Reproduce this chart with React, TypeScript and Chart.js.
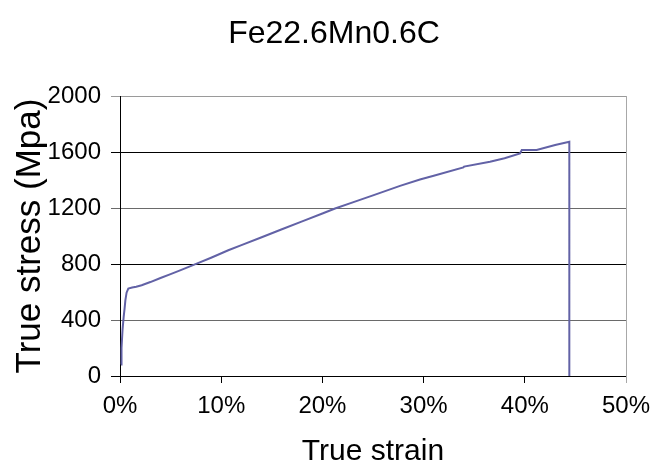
import React, { useEffect, useRef } from "react";
import { Chart, registerables } from "chart.js";

Chart.register(...registerables);

const TITLE = "Fe22.6Mn0.6C";
const X_TITLE = "True strain";
const Y_TITLE = "True stress (Mpa)";

const strain = [
  0.001, 0.0015, 0.0025, 0.0036, 0.0045, 0.0053, 0.0065, 0.0082, 0.012, 0.016,
  0.0214, 0.03, 0.04, 0.05, 0.06, 0.0758, 0.09, 0.107, 0.12, 0.14, 0.16, 0.18,
  0.2, 0.2125, 0.23, 0.25, 0.2767, 0.2964, 0.31, 0.3393, 0.3400, 0.3656, 0.38,
  0.3953, 0.397, 0.4117, 0.43, 0.444, 0.444,
];
const stress = [
  82, 200, 330, 421, 480, 540, 595, 624, 632, 638,
  648, 671, 700, 728, 756, 803, 845, 898, 935, 991, 1048, 1104,
  1161, 1196, 1240, 1290, 1358, 1404, 1430, 1490, 1496, 1530, 1555,
  1590, 1614, 1614, 1650, 1673, 0,
];

const X_MIN = 0, X_MAX = 0.5, X_STEP = 0.1;
const Y_MIN = 0, Y_MAX = 2000, Y_STEP = 400;

const FONT = "'Liberation Sans', Arial, sans-serif";

export default function App() {
  const ref = useRef<HTMLCanvasElement | null>(null);
  useEffect(() => {
    if (!ref.current) return;
    const decoPlugin = {
      id: "deco",
      afterDatasetsDraw(chart: any) {
        const { ctx, chartArea } = chart;
        ctx.save();
        ctx.strokeStyle = "#a8a8a8";
        ctx.lineWidth = 1;
        ctx.beginPath();
        ctx.moveTo(Math.round(chartArea.right) + 0.5, chartArea.top);
        ctx.lineTo(Math.round(chartArea.right) + 0.5, chartArea.bottom + 7);
        ctx.stroke();
        ctx.fillStyle = "#000";
        ctx.font = "32px " + FONT;
        ctx.textAlign = "center";
        ctx.textBaseline = "middle";
        ctx.fillText(TITLE, 334, 34);
        ctx.restore();
      },
    };
    const chart = new Chart(ref.current, {
      type: "line",
      data: {
        datasets: [
          {
            data: strain.map((x, i) => ({ x, y: stress[i] })),
            borderColor: "#6262a6",
            borderWidth: 2,
            pointRadius: 0,
            tension: 0,
            fill: false,
          },
        ],
      },
      options: {
        animation: false,
        responsive: false,
        maintainAspectRatio: false,
        layout: { padding: { left: 0, right: 25, top: 96, bottom: 0 } },
        plugins: {
          legend: { display: false },
          tooltip: { enabled: false },
          title: { display: false },
        },
        scales: {
          x: {
            type: "linear",
            min: X_MIN,
            max: X_MAX,
            afterFit(scale: any) {
              scale.height = 88;
              scale.paddingLeft = 0;
              scale.paddingRight = 0;
            },
            ticks: {
              stepSize: X_STEP,
              color: "#000",
              font: { family: FONT, size: 24 },
              padding: 9,
              maxRotation: 0,
              callback: (v: any) => Math.round(Number(v) * 100) + "%",
            },
            grid: {
              drawOnChartArea: false,
              drawTicks: true,
              tickLength: 7,
              color: "#000",
            },
            border: { color: "#000", width: 1 },
            title: {
              display: true,
              text: X_TITLE,
              color: "#000",
              font: { family: FONT, size: 30, lineHeight: 1 },
              padding: { top: 0, bottom: -3 },
            },
          },
          y: {
            type: "linear",
            min: Y_MIN,
            max: Y_MAX,
            afterFit(scale: any) {
              scale.width = 120;
              scale.paddingTop = 0;
              scale.paddingBottom = 0;
            },
            ticks: {
              stepSize: Y_STEP,
              color: "#000",
              font: { family: FONT, size: 24 },
              padding: 10,
              callback: (v: any) => String(v),
            },
            grid: {
              drawTicks: true,
              tickLength: 9,
              color: (c: any) => {
                const v = c.tick ? c.tick.value : 0;
                if (v === 2000) return "#9a9a9a";
                if (v === 400 || v === 1200) return "#6a6a6a";
                return "#000";
              },
            },
            border: { color: "#000", width: 1 },
            title: {
              display: true,
              text: Y_TITLE,
              color: "#000",
              font: { family: FONT, size: 35, lineHeight: 1.2 },
              padding: { top: 9, bottom: 0 },
            },
          },
        },
      },
      plugins: [decoPlugin],
    });
    return () => chart.destroy();
  }, []);
  return (
    <div style={{ position: "absolute", left: 0, top: 0, width: 651, height: 464, background: "#fff" }}>
      <canvas ref={ref} width={651} height={464} style={{ width: 651, height: 464, display: "block" }} />
    </div>
  );
}
